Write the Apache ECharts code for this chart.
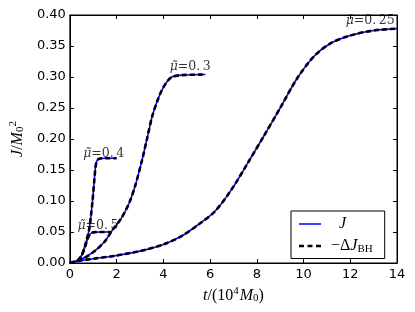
<!DOCTYPE html>
<html><head><meta charset="utf-8">
<script src="https://cdn.jsdelivr.net/npm/echarts@6/dist/echarts.min.js"></script>
<style>html,body{margin:0;padding:0;background:#fff}#c{width:415px;height:312px}</style>
</head><body><div id="c"></div>
<script>
// Data: [t (10^4 M0), J/M0^2]
const mu05 = [[0.0,0.0],[0.3,0.003],[0.5,0.012],[0.65,0.026],[0.75,0.038],[0.85,0.046],[0.95,0.049],[1.1,0.0498],[1.4,0.05],[1.75,0.05]];
const mu04 = [[0.0,0.0],[0.3,0.003],[0.5,0.012],[0.65,0.028],[0.75,0.042],[0.83,0.055],[0.9,0.075],[0.97,0.10],[1.05,0.135],[1.1,0.155],[1.15,0.164],[1.25,0.168],[1.5,0.169],[2.0,0.169]];
const mu03 = [[0.0,0.0],[0.3,0.003],[0.7,0.01],[1.12,0.021],[1.5,0.035],[1.82,0.053],[2.2,0.072],[2.53,0.096],[2.8,0.125],[3.09,0.166],[3.3,0.2],[3.52,0.236],[3.75,0.262],[3.94,0.279],[4.15,0.292],[4.36,0.300],[4.8,0.303],[5.8,0.304]];
const mu025 = [[0.0,0.0],[0.3,0.003],[1.12,0.0075],[1.82,0.011],[3.09,0.020],[4.0,0.030],[4.79,0.0435],[5.5,0.062],[6.2,0.083],[6.91,0.118],[7.61,0.161],[8.32,0.206],[9.03,0.252],[9.73,0.298],[10.44,0.333],[11.14,0.354],[12.0,0.367],[13.0,0.375],[14.0,0.378]];
const curveLabels = ['0.5','0.4','0.3','0.25'];
const labelPos = [[1.2,0.060],[1.45,0.177],[5.15,0.316],[12.85,0.390]];
const xTicks = {min:0, max:14, interval:2};
const yTicks = {min:0, max:0.4, interval:0.05};

const curves = [mu05, mu04, mu03, mu025];
const series = [];
curves.forEach(d => {
  series.push({type:'line', name:'J', data:d, symbol:'none', smooth:0.3, lineStyle:{color:'#0000ff', width:1.6}, itemStyle:{color:'#0000ff'}, z:2});
});
curves.forEach(d => {
  series.push({type:'line', name:'−ΔJBH', data:d, symbol:'none', smooth:0.3, lineStyle:{color:'#000', width:2.6, type:[5,3]}, itemStyle:{color:'#000'}, z:3});
});
const serif = 'DejaVu Serif';
const mserif = 'Liberation Serif';
series.push({
  type:'scatter', data: labelPos.map((p,i)=>[p[0],p[1],curveLabels[i]]), symbolSize:1,
  itemStyle:{color:'rgba(0,0,0,0)'}, silent:true, z:5,
  label:{show:true, position:'inside', formatter: p => '{i|μ̃}{n|=0.\u2009' + p.value[2].slice(2) + '}',
    rich:{i:{fontFamily:serif, fontStyle:'italic', fontSize:12.5, color:'#000'},
          n:{fontFamily:serif, fontSize:12.5, color:'#000'}}}
});

const tickStyle = {show:true, inside:true, length:4, lineStyle:{color:'#000', width:1}};
const lineSty = {show:true, onZero:false, lineStyle:{color:'#000', width:1}};
const chart = echarts.init(document.getElementById('c'));
chart.setOption({
  animation:false,
  backgroundColor:'#fff',
  grid:{left:67, right:18, top:15, bottom:49, show:true, borderColor:'#000', borderWidth:1},
  xAxis:[
    {type:'value', ...xTicks, position:'bottom', axisLine:lineSty, axisTick:tickStyle, splitLine:{show:false},
     axisLabel:{fontFamily:'DejaVu Sans', fontSize:13, color:'#000', margin:5},
     name:'{i|t}{n|/(10}{sup|4}{i|M}{sub|0}{n|)}', nameLocation:'middle', nameGap:23,
     nameTextStyle:{rich:{
       i:{fontFamily:mserif, fontStyle:'italic', fontSize:16, color:'#000'},
       n:{fontFamily:mserif, fontSize:16, color:'#000'},
       sup:{fontFamily:mserif, fontSize:11, color:'#000', padding:[0,1,8,0]},
       sub:{fontFamily:mserif, fontSize:11, color:'#000', padding:[6,0,0,0]}}}},
    {type:'value', ...xTicks, position:'top', axisLine:lineSty, axisTick:tickStyle, axisLabel:{show:false}, splitLine:{show:false}}
  ],
  yAxis:[
    {type:'value', ...yTicks, position:'left', axisLine:lineSty, axisTick:tickStyle, splitLine:{show:false},
     axisLabel:{fontFamily:'DejaVu Sans', fontSize:13, color:'#000', margin:4, formatter:v=>v.toFixed(2)},
     name:'{i|J}{n|/}{i|M}{sub|0}{sup|2}', nameLocation:'middle', nameRotate:90, nameGap:41,
     nameTextStyle:{rich:{
       i:{fontFamily:mserif, fontStyle:'italic', fontSize:16, color:'#000'},
       n:{fontFamily:mserif, fontSize:16, color:'#000'},
       sub:{fontFamily:mserif, fontSize:11, color:'#000', padding:[6,0,0,0]},
       sup:{fontFamily:mserif, fontSize:11, color:'#000', padding:[0,0,8,0]}}}},
    {type:'value', ...yTicks, position:'right', axisLine:lineSty, axisTick:tickStyle, axisLabel:{show:false}, splitLine:{show:false}}
  ],
  legend:{
    data:[
      {name:'J', icon:'path://M0,0h.01v.01h-.01z M0,6.2h22v1.6h-22z M22,13.99h.01v.01h-.01z', itemStyle:{color:'#0000ff', borderWidth:0}},
      {name:'−ΔJBH', icon:'path://M0,0h.01v.01h-.01z M0,5.7h5v2.6h-5z M8.5,5.7h5v2.6h-5z M17,5.7h5v2.6h-5z M22,13.99h.01v.01h-.01z', itemStyle:{color:'#000', borderWidth:0}}
    ],
    left:291, top:211, orient:'vertical', backgroundColor:'#fff', borderColor:'#000', borderWidth:1,
    borderRadius:0, padding:[5,12,4,8], itemGap:6, itemWidth:22, itemHeight:15, z:10,
    formatter: n => n === 'J' ? '{j|J}' : '{n|−Δ}{i|J}{sub|BH}',
    textStyle:{padding:[0,0,0,5], rich:{
      j:{fontFamily:mserif, fontStyle:'italic', fontSize:16, color:'#000', padding:[0,0,0,8]},
      i:{fontFamily:mserif, fontStyle:'italic', fontSize:16, color:'#000'},
      n:{fontFamily:mserif, fontSize:16, color:'#000'},
      sub:{fontFamily:mserif, fontSize:11, color:'#000', padding:[6,0,0,0]}}}
  },
  series
});
</script></body></html>
